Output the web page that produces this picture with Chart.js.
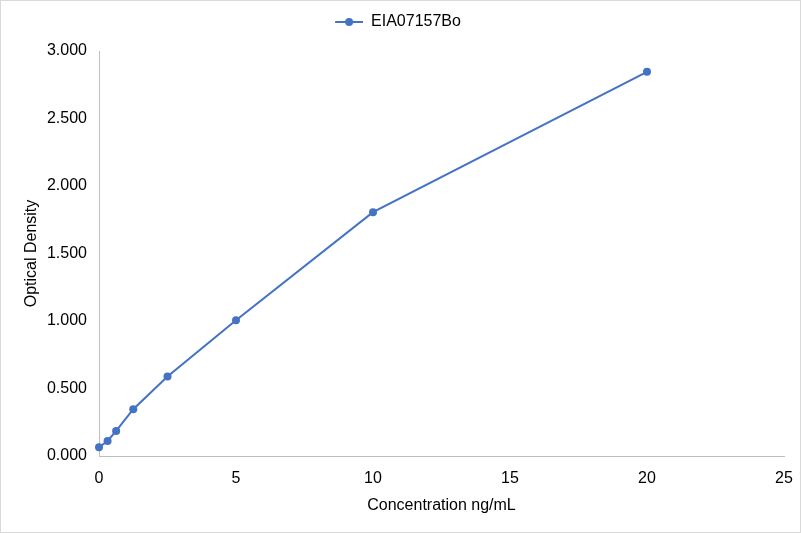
<!DOCTYPE html>
<html>
<head>
<meta charset="utf-8">
<script src="https://cdn.jsdelivr.net/npm/chart.js@4/dist/chart.umd.min.js"></script>
<style>
  html, body { margin: 0; padding: 0; background: #fff; }
</style>
</head>
<body>
<canvas id="myChart" width="801" height="533"></canvas>
<script>
// standard curve readings
var seriesName = 'EIA07157Bo';
var concentration = [0, 0.313, 0.625, 1.25, 2.5, 5, 10, 20];
var opticalDensity = [0.065, 0.111, 0.186, 0.347, 0.589, 1.006, 1.806, 2.846];

var blue = '#4472c4';

// little line-with-dot marker for the legend (blank strip on the left)
var legendIcon = document.createElement('canvas');
legendIcon.width = 40;
legendIcon.height = 10;
var ictx = legendIcon.getContext('2d');
ictx.strokeStyle = blue;
ictx.lineWidth = 2;
ictx.beginPath();
ictx.moveTo(12, 5);
ictx.lineTo(40, 5);
ictx.stroke();
ictx.fillStyle = blue;
ictx.beginPath();
ictx.arc(26, 5, 4, 0, Math.PI * 2);
ictx.fill();

var points = concentration.map(function (c, i) {
    return { x: c, y: opticalDensity[i] };
});

const frame = {
    id: 'frame',
    beforeDraw(chart) {
        var ctx = chart.ctx;
        ctx.save();
        ctx.fillStyle = '#fff';
        ctx.fillRect(0, 0, chart.width, chart.height);
        ctx.strokeStyle = '#d9d9d9';
        ctx.lineWidth = 1;
        ctx.strokeRect(0.5, 0.5, chart.width - 1, chart.height - 1);
        ctx.restore();
    }
};

const data = {
    datasets: [{
        label: seriesName,
        data: points,
        borderColor: blue,
        backgroundColor: blue,
        borderWidth: 2,
        pointRadius: 4,
        pointHoverRadius: 4,
        pointBorderWidth: 0,
        pointStyle: 'circle',
        tension: 0,
        clip: false
    }]
};

const config = {
    type: 'scatter',
    data: data,
    plugins: [frame],
    options: {
        responsive: false,
        animation: false,
        devicePixelRatio: 1,
        showLine: true,
        layout: { padding: { left: 0, right: 17, top: 1, bottom: 0 } },
        plugins: {
            tooltip: { enabled: false },
            legend: {
                position: 'top',
                labels: {
                    font: { family: 'Liberation Sans', size: 16 },
                    usePointStyle: true,
                    pointStyleWidth: 40,
                    padding: 13,
                    generateLabels: function (chart) {
                        return [{
                            text: seriesName,
                            pointStyle: legendIcon,
                            fontColor: '#000',
                            datasetIndex: 0,
                            lineWidth: 0
                        }];
                    }
                }
            }
        },
        scales: {
            x: {
                type: 'linear',
                min: 0,
                max: 25,
                ticks: {
                    stepSize: 5,
                    color: '#000',
                    font: { family: 'Liberation Sans', size: 16 },
                    padding: 13
                },
                grid: { display: false, drawTicks: false },
                border: { color: '#bfbfbf', width: 1 },
                title: {
                    display: true,
                    text: 'Concentration ng/mL',
                    color: '#000',
                    font: { family: 'Liberation Sans', size: 16 },
                    padding: { top: 0, bottom: 18 }
                },
                afterFit: function (scale) {
                    scale.height = 77;
                    scale.paddingRight = 0;
                }
            },
            y: {
                min: 0,
                max: 3,
                ticks: {
                    stepSize: 0.5,
                    color: '#000',
                    font: { family: 'Liberation Sans', size: 16 },
                    padding: 12,
                    callback: function (v) { return v.toFixed(3); }
                },
                grid: { display: false, drawTicks: false },
                border: { color: '#bfbfbf', width: 1 },
                title: {
                    display: true,
                    text: 'Optical Density',
                    color: '#000',
                    font: { family: 'Liberation Sans', size: 16 },
                    padding: { top: 22, bottom: 0 }
                },
                afterFit: function (scale) { scale.width = 99; }
            }
        }
    }
};

const myChart = new Chart(
    document.getElementById('myChart'),
    config
);

// leave a gap under the legend so the plot starts lower
var baseFit = myChart.legend.fit;
myChart.legend.fit = function () {
    baseFit.call(this);
    this.height += 11;
};
myChart.update();
</script>
</body>
</html>
